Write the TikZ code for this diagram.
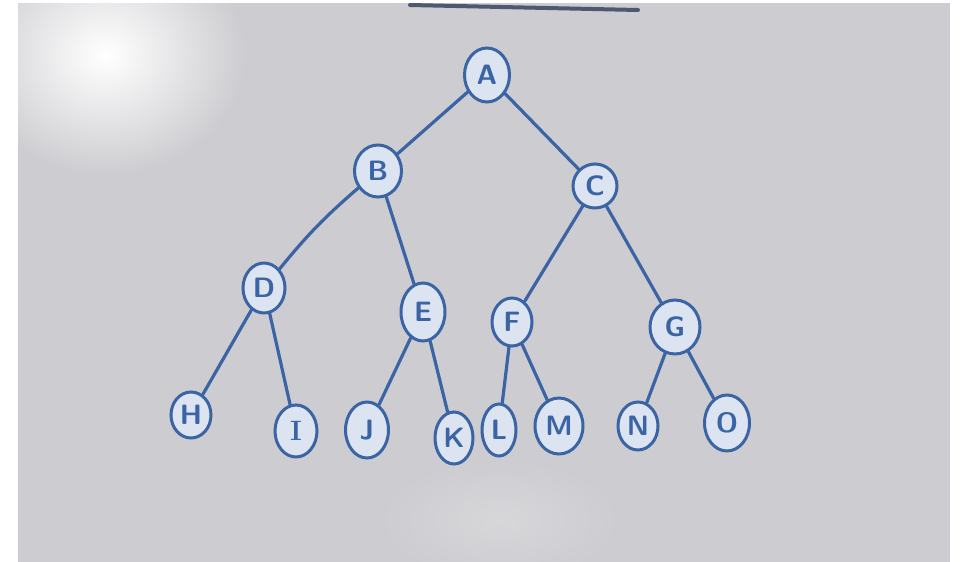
\documentclass[tikz,border=0pt]{standalone}
\usetikzlibrary{shapes.geometric}
\definecolor{board}{HTML}{CDCDD1}
\definecolor{ink}{HTML}{3A64A4}
\definecolor{fillc}{HTML}{DCE4F1}
\definecolor{bar}{HTML}{4E5870}
\begin{document}
\begin{tikzpicture}[x=1pt,y=-1pt,
  tn/.style={ellipse, draw=ink, line width=3pt, fill=fillc, inner sep=0pt,
    minimum width=42pt, minimum height=50pt, text=ink,
    font=\sffamily\bfseries\fontsize{28}{28}\selectfont},
  link/.style={draw=ink, line width=3.2pt, line cap=round}]
\useasboundingbox (0,0) rectangle (964,562);
\fill[white] (0,0) rectangle (964,562);
\begin{scope}
  \clip (18,3) rectangle (950,562);
  \fill[board] (18,3) rectangle (950,562);
  \shade[inner color=white, outer color=board] (105,55) ellipse (140 and 120);
  \shade[inner color=board!80!white, outer color=board] (500,520) ellipse (120 and 60);
\end{scope}
\draw[bar, line width=4pt, line cap=round] (410,5) -- (638,10);

\node[tn, minimum width=45pt, minimum height=54pt] (A) at (487,75) {A};
\node[tn, minimum width=47pt, minimum height=52pt] (B) at (378,171) {B};
\node[tn, minimum width=44pt, minimum height=44pt] (C) at (595,186) {C};
\node[tn, minimum width=42pt, minimum height=50pt] (D) at (264,288) {D};
\node[tn, minimum width=44pt, minimum height=58pt] (E) at (423,312) {E};
\node[tn, minimum width=40pt, minimum height=48pt] (F) at (512,322) {F};
\node[tn, minimum width=50pt, minimum height=54pt] (G) at (675,327) {G};
\node[tn, minimum width=40pt, minimum height=46pt] (H) at (191,415) {H};
\node[tn, minimum width=42pt, minimum height=52pt, font=\rmfamily\bfseries\fontsize{28}{28}\selectfont] (I) at (296,431) {I};
\node[tn, minimum width=43pt, minimum height=56pt] (J) at (367,430) {J};
\node[tn, minimum width=38pt, minimum height=52pt] (K) at (454,438) {K};
\node[tn, minimum width=34pt, minimum height=52pt] (L) at (499,430) {L};
\node[tn, minimum width=48pt, minimum height=56pt] (M) at (559,426) {M};
\node[tn, minimum width=40pt, minimum height=48pt] (N) at (638,426) {N};
\node[tn, minimum width=45pt, minimum height=56pt] (O) at (727,423) {O};

\draw[link] (A) -- (B);
\draw[link] (A) -- (C);
\draw[link] (B) to[bend right=5] (D);
\draw[link] (B) -- (E);
\draw[link] (C) -- (F);
\draw[link] (C) -- (G);
\draw[link] (D) -- (H);
\draw[link] (D) -- (I);
\draw[link] (E) -- (J);
\draw[link] (E) -- (K);
\draw[link] (F) -- (L);
\draw[link] (F) -- (M);
\draw[link] (G) -- (N);
\draw[link] (G) -- (O);
\end{tikzpicture}
\end{document}
